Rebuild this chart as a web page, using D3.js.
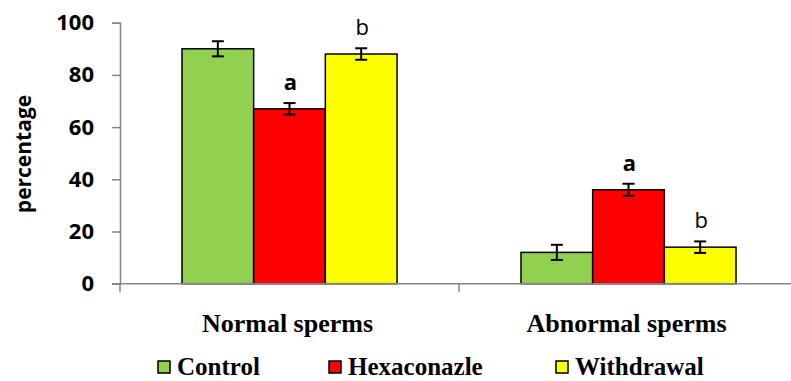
<!DOCTYPE html>
<html><head><meta charset="utf-8">
<script src="https://cdn.jsdelivr.net/npm/d3@7"></script>
<style>body{margin:0;background:#fff}svg{display:block}</style>
</head><body>
<svg id="chart" width="791" height="381"></svg>
<script>
const categories = ["Normal sperms", "Abnormal sperms"];
const seriesNames = ["Control", "Hexaconazle", "Withdrawal"];
const seriesColors = ["#92D050", "#FF0000", "#FFFF00"];
const controlValues = [90, 12];
const hexaValues = [67, 36];
const withdrawalValues = [88, 14];
const controlErr = [2.9, 2.9];
const hexaErr = [2.2, 2.3];
const withdrawalErr = [2.2, 2.2];
const hexaLetters = ["a", "a"];
const withdrawalLetters = ["b", "b"];
const yTicks = [0, 20, 40, 60, 80, 100];

const series = [
  {name: seriesNames[0], color: seriesColors[0], values: controlValues, err: controlErr, letters: ["", ""], bold: false},
  {name: seriesNames[1], color: seriesColors[1], values: hexaValues, err: hexaErr, letters: hexaLetters, bold: true},
  {name: seriesNames[2], color: seriesColors[2], values: withdrawalValues, err: withdrawalErr, letters: withdrawalLetters, bold: false}
];

const svg = d3.select("#chart");
const x0 = 120, x1 = 798, yBottom = 283.7, yTop = 22.7;

const x = d3.scaleBand().domain(categories).range([x0, x1]).paddingInner(0).paddingOuter(0);
const xs = d3.scaleBand().domain(seriesNames).range([0, x.bandwidth()]).paddingInner(0).paddingOuter(0.865);
const y = d3.scaleLinear().domain([0, 100]).range([yBottom, yTop]);

const axisColor = "#868686";

// Y axis
const yAxis = svg.append("g").attr("transform", `translate(${x0},0)`)
  .call(d3.axisLeft(y).tickValues(yTicks).tickSize(8).tickPadding(18).tickFormat(d3.format("d")));
yAxis.select(".domain").attr("stroke", axisColor).attr("stroke-width", 1.5);
yAxis.selectAll(".tick line").attr("stroke", axisColor).attr("stroke-width", 1.5);
yAxis.selectAll(".tick text").attr("fill", "#000").attr("font-family", "'Open Sans', sans-serif")
  .attr("font-weight", 700).attr("font-size", 22);

// Bars
series.forEach(s => {
  const g = svg.append("g");
  categories.forEach((c, i) => {
    const bx = x(c) + xs(s.name);
    const bw = xs.bandwidth();
    const v = s.values[i];
    g.append("rect").attr("x", bx).attr("y", y(v)).attr("width", bw).attr("height", y(0) - y(v))
      .attr("fill", s.color).attr("stroke", "#000").attr("stroke-width", 1.5);
  });
});

// X axis
const xAxis = svg.append("g").attr("transform", `translate(0,${yBottom})`)
  .call(d3.axisBottom(x).tickSize(0).tickFormat(""));
xAxis.select(".domain").remove();
svg.append("line").attr("x1", x0 - 8).attr("x2", 791).attr("y1", yBottom).attr("y2", yBottom)
  .attr("stroke", axisColor).attr("stroke-width", 1.5);
[x0, x0 + x.step(), x0 + 2 * x.step()].forEach(tx => {
  svg.append("line").attr("x1", tx).attr("x2", tx).attr("y1", yBottom).attr("y2", yBottom + 8)
    .attr("stroke", axisColor).attr("stroke-width", 1.5);
});

// Error bars and letters
series.forEach(s => {
  categories.forEach((c, i) => {
    const cx = x(c) + xs(s.name) + xs.bandwidth() / 2;
    const v = s.values[i], e = s.err[i];
    const yt = y(v + e), yb = y(v - e);
    const g = svg.append("g").attr("stroke", "#000").attr("stroke-width", 2);
    g.append("line").attr("x1", cx).attr("x2", cx).attr("y1", yt).attr("y2", yb);
    g.append("line").attr("x1", cx - 6).attr("x2", cx + 6).attr("y1", yt).attr("y2", yt);
    g.append("line").attr("x1", cx - 6).attr("x2", cx + 6).attr("y1", yb).attr("y2", yb);
    if (s.letters[i]) {
      svg.append("text").attr("x", cx + 1).attr("y", yt - 13).attr("text-anchor", "middle")
        .attr("font-family", "'Open Sans', sans-serif").attr("font-size", 22)
        .attr("font-weight", s.bold ? 700 : 400).attr("fill", "#000").text(s.letters[i]);
    }
  });
});

// Category labels
categories.forEach(c => {
  svg.append("text").attr("x", x(c) + x.bandwidth() / 2 - 2).attr("y", 332).attr("text-anchor", "middle")
    .attr("font-family", "'Liberation Serif', 'Times New Roman', serif").attr("font-weight", 700)
    .attr("font-size", 26).attr("fill", "#000").text(c);
});

// Y label
svg.append("text").attr("transform", "translate(31,154) rotate(-90)").attr("text-anchor", "middle")
  .attr("font-family", "'Open Sans', sans-serif").attr("font-weight", 700).attr("font-size", 21)
  .attr("fill", "#000").text("percentage");

// Legend
const legendX = [158, 329, 556];
series.forEach((s, i) => {
  const g = svg.append("g").attr("transform", `translate(${legendX[i]},361)`);
  g.append("rect").attr("x", 0).attr("y", 0).attr("width", 12).attr("height", 12)
    .attr("fill", s.color).attr("stroke", "#000").attr("stroke-width", 1.5);
  g.append("text").attr("x", 19).attr("y", 14).attr("font-family", "'Liberation Serif', 'Times New Roman', serif")
    .attr("font-weight", 700).attr("font-size", 25).attr("fill", "#000").text(s.name);
});
</script>
</body></html>
